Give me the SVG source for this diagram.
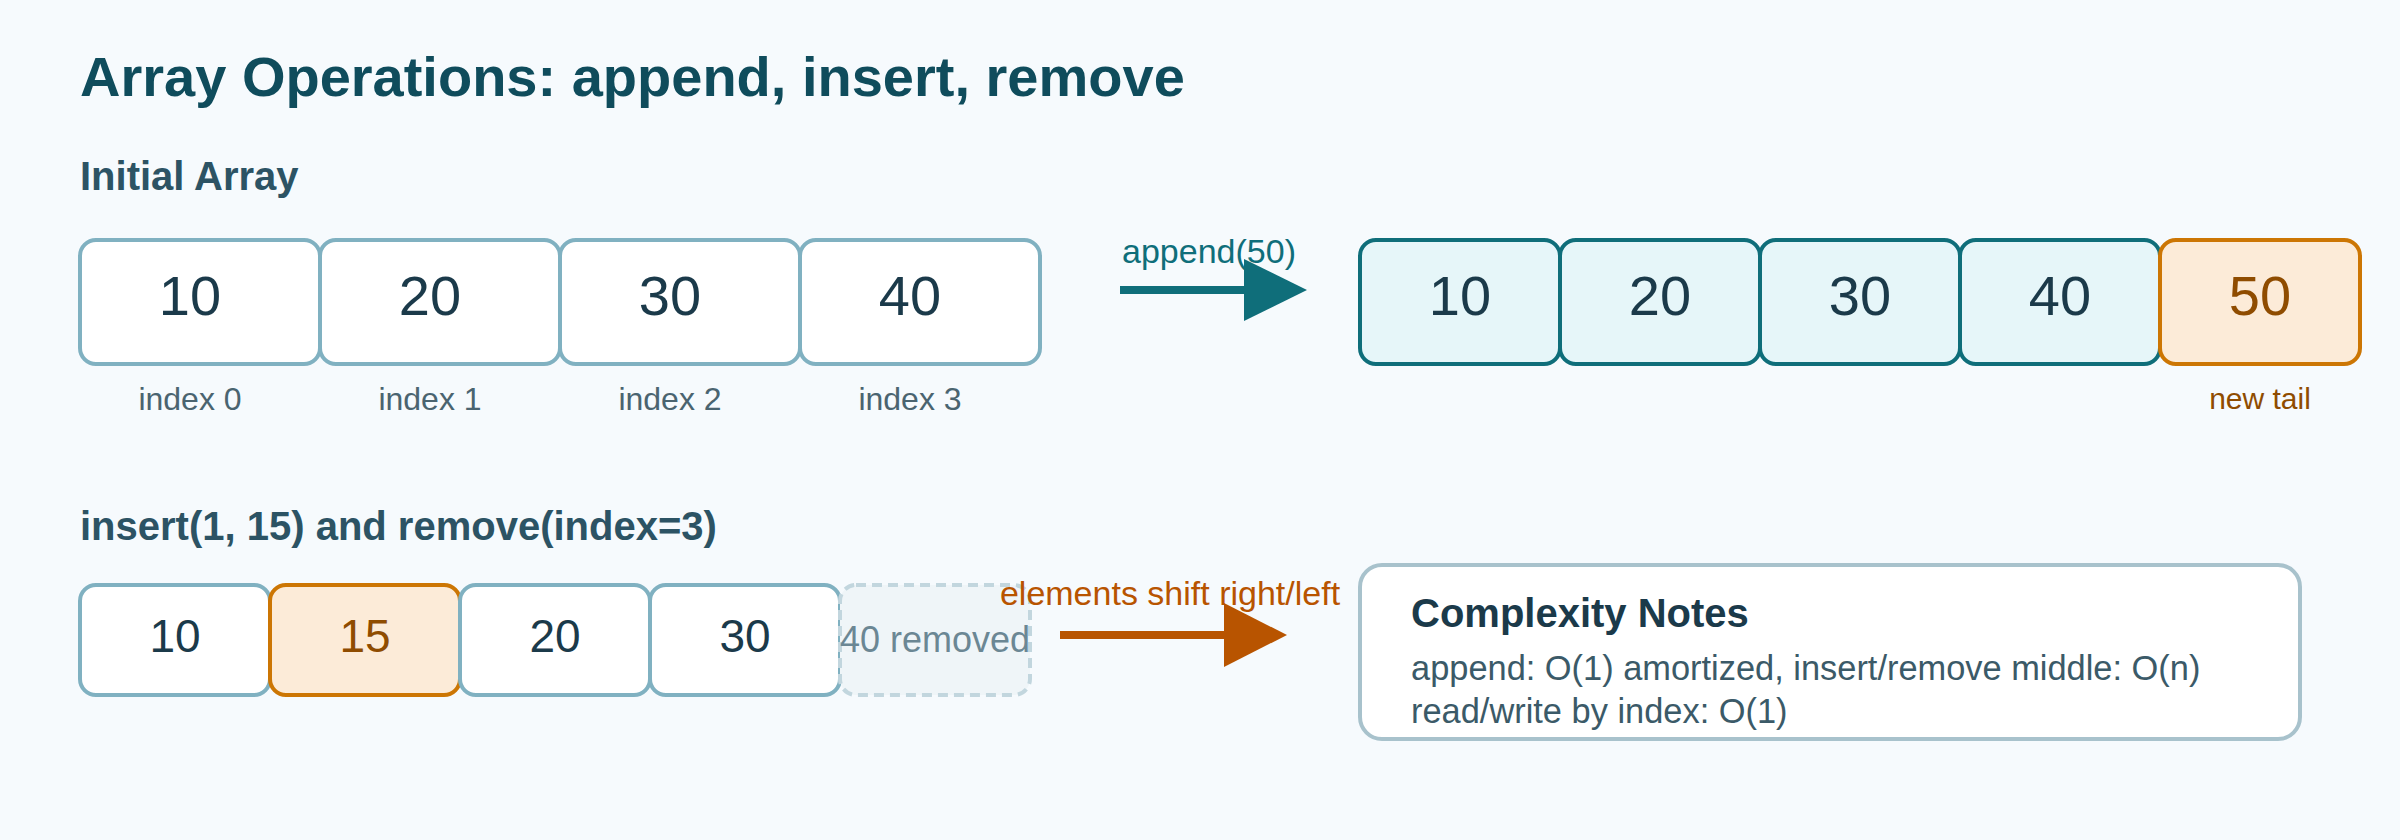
<svg xmlns="http://www.w3.org/2000/svg" width="2400" height="840" viewBox="0 0 2400 840">
  <style>
    text { font-family: "Liberation Sans", Arial, Helvetica, sans-serif; }
    .title { font-size: 56px; font-weight: bold; fill: #0f4c5c; }
    .section { font-size: 40px; font-weight: bold; fill: #2c5364; }
    .cell { fill: #ffffff; stroke: #80b1c1; stroke-width: 4; }
    .cellA { fill: #e6f6f9; stroke: #0f6e7a; stroke-width: 4; }
    .cellNew { fill: #fcebd8; stroke: #cc7604; stroke-width: 4; }
    .cellGone { fill: #eff5f8; stroke: #c2d6de; stroke-width: 4; stroke-dasharray: 10 6; }
    .num { font-size: 56px; fill: #1b3a4a; text-anchor: middle; }
    .numS { font-size: 46px; fill: #1b3a4a; text-anchor: middle; }
    .numNew { fill: #8f4c00; }
    .idx { font-size: 32px; fill: #4a6470; text-anchor: middle; }
    .tail { font-size: 30px; fill: #8f4c00; text-anchor: middle; }
    .gone { font-size: 36px; fill: #6b8794; text-anchor: middle; }
    .lblTeal { font-size: 34px; fill: #0f6e7a; text-anchor: middle; }
    .lblOrange { font-size: 34px; fill: #b85400; text-anchor: middle; }
    .noteBox { fill: #ffffff; stroke: #a8c2cc; stroke-width: 4; }
    .noteTitle { font-size: 40px; font-weight: bold; fill: #1b3a4a; }
    .noteText { font-size: 34.4px; fill: #3b5a68; }
  </style>
  <defs>
    <marker id="headTeal" markerUnits="userSpaceOnUse" markerWidth="64" markerHeight="62" viewBox="0 0 64 62" refX="0" refY="31" orient="auto">
      <path d="M0,0 L63,31 L0,62 Z" fill="#0f6e7a"/>
    </marker>
    <marker id="headOrange" markerUnits="userSpaceOnUse" markerWidth="64" markerHeight="64" viewBox="0 0 64 64" refX="0" refY="32" orient="auto">
      <path d="M0,0 L63,32 L0,64 Z" fill="#b85400"/>
    </marker>
  </defs>

  <rect x="0" y="0" width="2400" height="840" fill="#f6fafd"/>

  <text class="title" x="80" y="96">Array Operations: append, insert, remove</text>
  <text class="section" x="80" y="190">Initial Array</text>
  <text class="section" x="80" y="540">insert(1, 15) and remove(index=3)</text>

  <g id="initial-0"><rect class="cell" x="80" y="240" width="240" height="124" rx="16"/><text class="num" x="190" y="315">10</text><text class="idx" x="190" y="410">index 0</text></g>
  <g id="initial-1"><rect class="cell" x="320" y="240" width="240" height="124" rx="16"/><text class="num" x="430" y="315">20</text><text class="idx" x="430" y="410">index 1</text></g>
  <g id="initial-2"><rect class="cell" x="560" y="240" width="240" height="124" rx="16"/><text class="num" x="670" y="315">30</text><text class="idx" x="670" y="410">index 2</text></g>
  <g id="initial-3"><rect class="cell" x="800" y="240" width="240" height="124" rx="16"/><text class="num" x="910" y="315">40</text><text class="idx" x="910" y="410">index 3</text></g>

  <g id="appended-0"><rect class="cellA" x="1360" y="240" width="200" height="124" rx="16"/><text class="num" x="1460" y="315">10</text></g>
  <g id="appended-1"><rect class="cellA" x="1560" y="240" width="200" height="124" rx="16"/><text class="num" x="1660" y="315">20</text></g>
  <g id="appended-2"><rect class="cellA" x="1760" y="240" width="200" height="124" rx="16"/><text class="num" x="1860" y="315">30</text></g>
  <g id="appended-3"><rect class="cellA" x="1960" y="240" width="200" height="124" rx="16"/><text class="num" x="2060" y="315">40</text></g>
  <g id="appended-4"><rect class="cellNew" x="2160" y="240" width="200" height="124" rx="16"/><text class="num numNew" x="2260" y="315">50</text><text class="tail" x="2260" y="409">new tail</text></g>

  <g id="modified-0"><rect class="cell" x="80" y="585" width="190" height="110" rx="16"/><text class="numS" x="175" y="652">10</text></g>
  <g id="modified-1"><rect class="cellNew" x="270" y="585" width="190" height="110" rx="16"/><text class="numS numNew" x="365" y="652">15</text></g>
  <g id="modified-2"><rect class="cell" x="460" y="585" width="190" height="110" rx="16"/><text class="numS" x="555" y="652">20</text></g>
  <g id="modified-3"><rect class="cell" x="650" y="585" width="190" height="110" rx="16"/><text class="numS" x="745" y="652">30</text></g>
  <g id="modified-removed"><rect class="cellGone" x="840" y="585" width="190" height="110" rx="16"/><text class="gone" x="935" y="652">40 removed</text></g>

  <g id="complexity-notes">
    <rect class="noteBox" x="1360" y="565" width="940" height="174" rx="22"/>
    <text class="noteTitle" x="1411" y="627">Complexity Notes</text>
    <text class="noteText" x="1411" y="680">append: O(1) amortized, insert/remove middle: O(n)</text>
    <text class="noteText" x="1411" y="723">read/write by index: O(1)</text>
  </g>

  <g id="connectors">
    <line x1="1120" y1="290" x2="1244" y2="290" stroke="#0f6e7a" stroke-width="8" marker-end="url(#headTeal)"/>
    <text class="lblTeal" x="1209" y="263">append(50)</text>
    <line x1="1060" y1="635" x2="1224" y2="635" stroke="#b85400" stroke-width="8" marker-end="url(#headOrange)"/>
    <text class="lblOrange" x="1170" y="605">elements shift right/left</text>
  </g>
</svg>
